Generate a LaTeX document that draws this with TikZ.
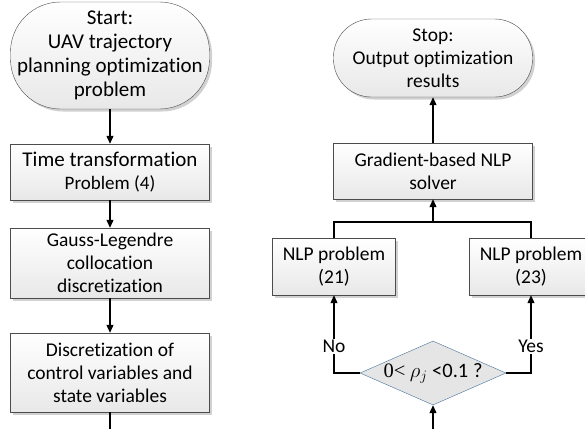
\documentclass[tikz,border=0pt]{standalone}
\usepackage{fontspec}
\setmainfont{Carlito}[Ligatures=NoCommon]
\newfontfamily\serifnum{Liberation Serif}
\usetikzlibrary{arrows.meta,shapes.geometric,shadows}

\definecolor{condblue}{RGB}{65,113,156}

\tikzset{
  procbox/.style={draw=black!70, top color=white, bottom color=black!9,
    minimum width=199pt, minimum height=56pt, align=center, inner sep=1pt,
    drop shadow={shadow xshift=2.5pt, shadow yshift=-2.5pt, fill=black!18, opacity=1}},
  termbox/.style={procbox, rounded corners=38pt},
  decbox/.style={diamond, draw=condblue, fill=black!10, inner sep=0pt,
    minimum width=146pt, minimum height=64pt},
  flow/.style={draw, line width=1.1pt, -{Triangle[length=8pt,width=7pt]}},
  wire/.style={draw, line width=1.1pt}
}

\begin{document}
\begin{tikzpicture}[x=1pt, y=-1pt, font=\fontsize{19.5}{23}\selectfont]
      \useasboundingbox (0,0) rectangle (585,429);
      \clip (0,0) rectangle (585,429);

      % left column
      \node[termbox, minimum height=107pt, rounded corners=50pt,
        font=\fontsize{21}{24}\selectfont] (start) at (110, 55.5)
        {Start:\\UAV trajectory\\planning optimization\\problem};
      \node[procbox] (time) at (110, 172)
        {{\fontsize{21}{24}\selectfont Time transformation}\\{\fontsize{19}{22}\selectfont Problem (4)}};
      \node[procbox, minimum height=70pt] (gauss) at (110, 263)
        {Gauss-Legendre\\collocation\\discretization};
      \node[procbox, minimum height=79pt] (disc) at (110, 372.5)
        {Discretization of\\control variables and\\state variables};
      \coordinate (lbot) at (110, 429);

      % right column
      \node[termbox, minimum height=78pt] (stop) at (433, 58)
        {Stop:\\Output optimization\\results};
      \node[procbox] (solver) at (433, 171)
        {Gradient-based NLP\\solver};
      \node[procbox, minimum width=123pt, minimum height=57pt,
        font=\fontsize{19.5}{23}\selectfont] (nlpa) at (334, 266.5)
        {NLP problem\\(21)};
      \node[procbox, minimum width=123pt, minimum height=57pt,
        font=\fontsize{19.5}{23}\selectfont] (nlpb) at (531, 266.5)
        {NLP problem\\(23)};
      \coordinate (join) at (433, 222);
      \node[decbox] (cond) at (433, 373)
        {\makebox[0pt]{\fontsize{20.5}{23}\selectfont{\serifnum 0<} $\rho_j$ <0.1 ?}};
      \coordinate (rbot) at (433, 429);

      \draw[flow] (start) -- (time);
      \draw[flow] (time) -- (gauss);
      \draw[flow] (gauss) -- (disc);
      \draw[wire] (disc) -- (lbot);

      \draw[flow] (rbot) -- (cond);
      \draw[flow] (cond.west) -| node[pos=0.67, fill=white, inner sep=1pt] (no) {No} (nlpa);
      \draw[flow] (cond.east) -| node[pos=0.67, fill=white, inner sep=1pt] (yes) {Yes} (nlpb);
      \draw[wire] (nlpa) |- (join) -| (nlpb);
      \draw[flow] (join) -- (solver);
      \draw[flow] (solver) -- (stop);
\end{tikzpicture}
\end{document}
